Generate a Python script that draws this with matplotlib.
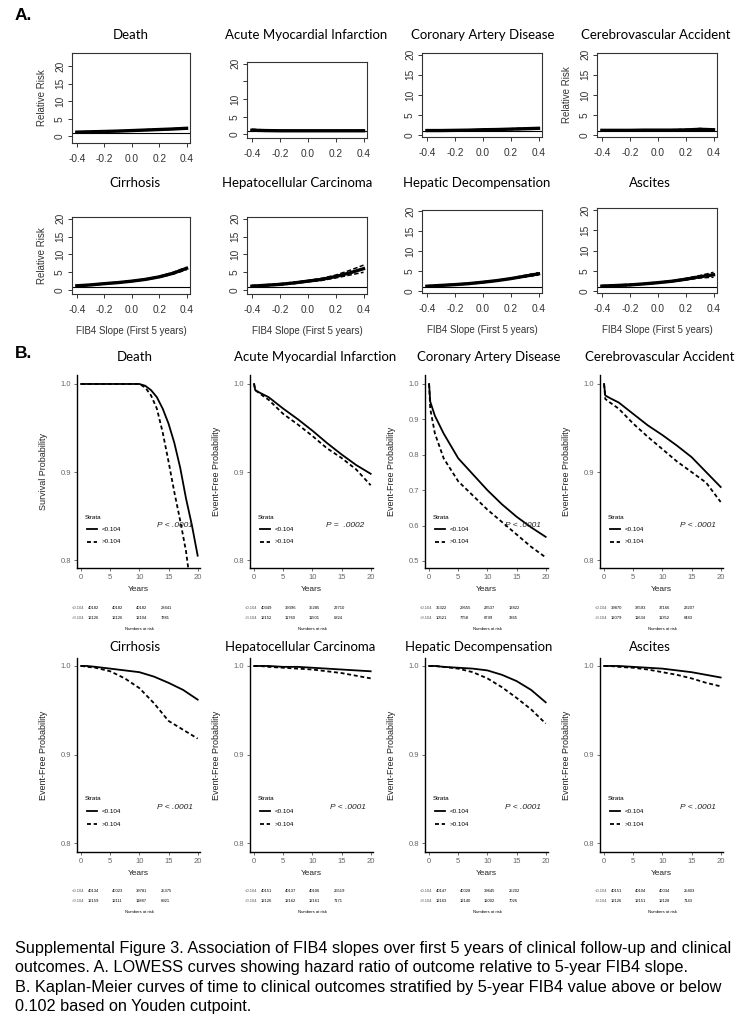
import numpy as np
import matplotlib
matplotlib.use("Agg")
import matplotlib.pyplot as plt

W, H = 749, 1030

# ---- Panel A: LOWESS relative risk vs 5-year FIB4 slope
slope = [-0.4, -0.3, -0.2, -0.1, 0.0, 0.1, 0.2, 0.3, 0.4]

rr_death = [1.2, 1.3, 1.4, 1.5, 1.65, 1.8, 1.95, 2.1, 2.3]
rr_death_lo = [1.1, 1.2, 1.3, 1.4, 1.55, 1.7, 1.85, 2.0, 2.15]
rr_death_hi = [1.3, 1.4, 1.5, 1.6, 1.75, 1.9, 2.05, 2.2, 2.45]

rr_ami = [1.2, 1.1, 1.05, 1.05, 1.05, 1.05, 1.05, 1.05, 1.05]
rr_ami_lo = [0.9, 0.95, 0.95, 1.0, 1.0, 1.0, 1.0, 1.0, 0.95]
rr_ami_hi = [1.5, 1.25, 1.15, 1.1, 1.1, 1.1, 1.1, 1.15, 1.2]

rr_cad = [1.2, 1.2, 1.25, 1.3, 1.4, 1.45, 1.55, 1.65, 1.75]
rr_cad_lo = [1.1, 1.15, 1.2, 1.25, 1.35, 1.4, 1.45, 1.5, 1.6]
rr_cad_hi = [1.3, 1.25, 1.3, 1.35, 1.45, 1.5, 1.65, 1.8, 1.9]

rr_cva = [1.25, 1.25, 1.25, 1.3, 1.3, 1.3, 1.35, 1.5, 1.4]
rr_cva_lo = [1.1, 1.15, 1.2, 1.2, 1.25, 1.25, 1.25, 1.3, 1.2]
rr_cva_hi = [1.4, 1.35, 1.3, 1.35, 1.35, 1.4, 1.5, 1.7, 1.6]

rr_cirr = [1.2, 1.45, 1.8, 2.1, 2.5, 3.0, 3.7, 4.7, 6.1]
rr_cirr_lo = [1.1, 1.35, 1.7, 2.0, 2.4, 2.9, 3.55, 4.45, 5.7]
rr_cirr_hi = [1.3, 1.55, 1.9, 2.2, 2.6, 3.1, 3.85, 4.95, 6.4]

rr_hcc = [1.1, 1.35, 1.6, 2.0, 2.5, 3.0, 3.8, 4.8, 6.0]
rr_hcc_lo = [0.9, 1.2, 1.4, 1.8, 2.3, 2.7, 3.4, 4.2, 5.0]
rr_hcc_hi = [1.3, 1.5, 1.8, 2.2, 2.7, 3.3, 4.2, 5.5, 7.0]

rr_hd = [1.2, 1.4, 1.6, 1.85, 2.2, 2.6, 3.1, 3.7, 4.3]
rr_hd_lo = [1.1, 1.3, 1.5, 1.75, 2.1, 2.5, 3.0, 3.5, 4.0]
rr_hd_hi = [1.3, 1.5, 1.7, 1.95, 2.3, 2.7, 3.2, 3.9, 4.6]

rr_asc = [1.2, 1.35, 1.5, 1.75, 2.05, 2.4, 2.9, 3.5, 4.0]
rr_asc_lo = [1.05, 1.2, 1.35, 1.65, 1.95, 2.3, 2.7, 3.2, 3.4]
rr_asc_hi = [1.35, 1.5, 1.65, 1.85, 2.15, 2.5, 3.1, 3.8, 4.6]

outcomes = ["Death", "Acute Myocardial Infarction", "Coronary Artery Disease",
            "Cerebrovascular Accident", "Cirrhosis", "Hepatocellular Carcinoma",
            "Hepatic Decompensation", "Ascites"]

# ---- Panel B: Kaplan-Meier curves (<0.104 solid, >0.104 dashed)
t_death = [0, 10, 11, 12, 13, 14, 15, 16, 17, 18, 19, 20]
km_death_lo = [1.0, 1.0, 0.998, 0.993, 0.985, 0.972, 0.955, 0.933, 0.905, 0.87, 0.84, 0.805]
km_death_hi = [1.0, 1.0, 0.996, 0.987, 0.972, 0.945, 0.912, 0.877, 0.845, 0.81, 0.76, 0.70]

t_km = [0, 0.2, 1, 2.5, 5, 7.5, 10, 12.5, 15, 17.5, 20]
km_ami_lo = [1.0, 0.993, 0.99, 0.985, 0.972, 0.96, 0.947, 0.933, 0.92, 0.908, 0.898]
km_ami_hi = [1.0, 0.993, 0.989, 0.982, 0.966, 0.954, 0.941, 0.927, 0.916, 0.903, 0.885]
km_cad_lo = [1.0, 0.95, 0.91, 0.86, 0.79, 0.745, 0.70, 0.66, 0.625, 0.595, 0.568]
km_cad_hi = [1.0, 0.93, 0.86, 0.79, 0.725, 0.685, 0.645, 0.61, 0.575, 0.54, 0.51]
km_cva_lo = [1.0, 0.987, 0.984, 0.979, 0.966, 0.953, 0.942, 0.93, 0.917, 0.90, 0.883]
km_cva_hi = [1.0, 0.983, 0.979, 0.972, 0.955, 0.94, 0.926, 0.912, 0.90, 0.888, 0.866]
km_cirr_lo = [1.0, 1.0, 1.0, 0.999, 0.997, 0.995, 0.993, 0.988, 0.981, 0.973, 0.962]
km_cirr_hi = [1.0, 1.0, 0.999, 0.998, 0.994, 0.986, 0.975, 0.958, 0.938, 0.928, 0.918]
km_hcc_lo = [1.0, 1.0, 1.0, 1.0, 0.999, 0.999, 0.998, 0.997, 0.996, 0.995, 0.994]
km_hcc_hi = [1.0, 1.0, 1.0, 0.999, 0.998, 0.997, 0.996, 0.994, 0.992, 0.989, 0.986]
km_hd_lo = [1.0, 1.0, 1.0, 0.999, 0.998, 0.997, 0.995, 0.99, 0.983, 0.973, 0.959]
km_hd_hi = [1.0, 1.0, 1.0, 0.999, 0.997, 0.993, 0.986, 0.976, 0.964, 0.951, 0.935]
km_asc_lo = [1.0, 1.0, 1.0, 1.0, 0.999, 0.998, 0.997, 0.995, 0.993, 0.99, 0.987]
km_asc_hi = [1.0, 1.0, 1.0, 0.999, 0.998, 0.996, 0.993, 0.99, 0.986, 0.981, 0.977]

p_values = ["P < .0001", "P =  .0002", "P < .0001", "P < .0001",
            "P < .0001", "P < .0001", "P < .0001", "P < .0001"]

# numbers at risk at 0, 5, 10, 15 years
risk_lo = [[40182, 40182, 40182, 28441], [40349, 39396, 35285, 22710],
           [36322, 29555, 23537, 13822], [39870, 38593, 37166, 23207],
           [40134, 40023, 39781, 25375], [40151, 40137, 40106, 25519],
           [40147, 40028, 39645, 25202], [40151, 40104, 40034, 25403]]
risk_hi = [[12126, 12126, 12104, 7881], [12152, 11760, 11501, 6824],
           [10521, 7758, 6799, 3365], [12079, 11634, 11352, 6483],
           [12159, 12111, 11887, 6921], [12126, 12162, 12161, 7171],
           [12163, 12140, 12002, 7026], [12126, 12151, 12128, 7143]]

strata = ["<0.104", ">0.104"]

caption = ("Supplemental Figure 3. Association of FIB4 slopes over first 5 years of clinical follow-up and clinical\n"
           "outcomes. A. LOWESS curves showing hazard ratio of outcome relative to 5-year FIB4 slope.\n"
           "B. Kaplan-Meier curves of time to clinical outcomes stratified by 5-year FIB4 value above or below\n"
           "0.102 based on Youden cutpoint.")

fig = plt.figure(figsize=(W / 100, H / 100), dpi=100)
fig.patch.set_facecolor("white")


def px_axes(x0, y0, x1, y1):
    return fig.add_axes([x0 / W, 1 - y1 / H, (x1 - x0) / W, (y1 - y0) / H])


def ftext(x, y, s, **kw):
    fig.text(x / W, 1 - y / H, s, **kw)


title_font = dict(family=["Lato", "DejaVu Sans"], fontsize=9.5, ha="center", va="center")

# ---------------- Panel A ----------------
ftext(15, 16, "A.", fontsize=12.5, fontweight="bold", family="Liberation Sans", va="center")

rr_sets = [(rr_death, rr_death_lo, rr_death_hi), (rr_ami, rr_ami_lo, rr_ami_hi),
           (rr_cad, rr_cad_lo, rr_cad_hi), (rr_cva, rr_cva_lo, rr_cva_hi),
           (rr_cirr, rr_cirr_lo, rr_cirr_hi), (rr_hcc, rr_hcc_lo, rr_hcc_hi),
           (rr_hd, rr_hd_lo, rr_hd_hi), (rr_asc, rr_asc_lo, rr_asc_hi)]

a_boxes = [(72, 53, 190, 143), (247, 62, 367, 138), (422, 53, 542, 137), (597, 53, 717, 137),
           (72, 217, 190, 294), (247, 217, 367, 294), (422, 210, 542, 293), (597, 208, 717, 293)]
a_ylims = [(-1.9, 23.8), (-1.0, 20.5), (-0.4, 20.4), (-0.4, 20.4),
           (-1.1, 20.5), (-1.1, 20.5), (-0.5, 20.3), (-0.5, 20.5)]
a_titles_xy = [(131, 35), (306, 35), (483, 35), (656, 35),
               (135, 183), (297, 183), (477, 183), (650, 183)]

for i, (mid, lo, hi) in enumerate(rr_sets):
    ax = px_axes(*a_boxes[i])
    ax.plot(slope, mid, color="black", lw=2.4)
    ax.plot(slope, lo, color="black", lw=1.1, ls=(0, (3, 1.5)))
    ax.plot(slope, hi, color="black", lw=1.1, ls=(0, (3, 1.5)))
    ax.axhline(1, color="black", lw=0.8)
    ax.set_xlim(-0.435, 0.425)
    ax.set_ylim(*a_ylims[i])
    ax.set_xticks([-0.4, -0.2, 0.0, 0.2, 0.4])
    ax.set_xticklabels(["-0.4", "-0.2", "0.0", "0.2", "0.4"])
    ax.set_yticks([0, 5, 10, 15, 20])
    if i == 1:
        ax.set_yticklabels(["0", "5", "10", "", "20"])
    for s in ax.spines.values():
        s.set_linewidth(0.8)
        s.set_color("#333333")
    ax.tick_params(axis="both", labelsize=7.3, length=3, width=0.7, colors="#333333",
                   labelcolor="#333333")
    ax.tick_params(axis="y", labelrotation=90, pad=2)
    ax.tick_params(axis="x", pad=5)
    for lab in ax.get_yticklabels():
        lab.set_va("center")
        lab.set_family("Liberation Sans")
    for lab in ax.get_xticklabels():
        lab.set_family("Liberation Sans")
    if i in (0, 3, 4):
        ax.set_ylabel("Relative Risk", fontsize=7, family="Liberation Sans", color="#333333",
                      labelpad=6)
    if i >= 4:
        ax.set_xlabel("FIB4 Slope (First 5 years)", fontsize=7, family="Liberation Sans",
                      color="#333333", labelpad=8)
    tx, ty = a_titles_xy[i]
    ftext(tx, ty, outcomes[i], **title_font)

# ---------------- Panel B ----------------
ftext(15, 353, "B.", fontsize=12.5, fontweight="bold", family="Liberation Sans", va="center")

km_sets = [(t_death, km_death_lo, km_death_hi), (t_km, km_ami_lo, km_ami_hi),
           (t_km, km_cad_lo, km_cad_hi), (t_km, km_cva_lo, km_cva_hi),
           (t_km, km_cirr_lo, km_cirr_hi), (t_km, km_hcc_lo, km_hcc_hi),
           (t_km, km_hd_lo, km_hd_hi), (t_km, km_asc_lo, km_asc_hi)]

col_left = [77, 250, 425, 600]
row_top = [375, 658]
row_bot = [568, 852]
b_titles_xy = [(135, 357), (315, 357), (489, 357), (660, 357),
               (135, 647), (300, 647), (479, 647), (650, 647)]
risk_y = [(608, 618, 629), (891, 901, 912)]

for i, (tt, lo, hi) in enumerate(km_sets):
    r, c = divmod(i, 4)
    x0 = col_left[c]
    ax = px_axes(x0, row_top[r], x0 + 123, row_bot[r])
    ax.plot(tt, lo, color="black", lw=1.3)
    ax.plot(tt, hi, color="black", lw=1.3, ls=(0, (2.2, 1.5)))
    ax.set_xlim(-0.7, 20.4)
    if i == 2:
        ax.set_ylim(0.480, 1.0254)
        ax.set_yticks([0.5, 0.6, 0.7, 0.8, 0.9, 1.0])
    elif r == 0:
        ax.set_ylim(0.791, 1.0102)
        ax.set_yticks([0.8, 0.9, 1.0])
    else:
        ax.set_ylim(0.79, 1.009)
        ax.set_yticks([0.8, 0.9, 1.0])
    ax.set_xticks([0, 5, 10, 15, 20])
    for side in ("top", "right"):
        ax.spines[side].set_visible(False)
    for side in ("left", "bottom"):
        ax.spines[side].set_linewidth(1.0)
    ax.tick_params(axis="both", labelsize=5.5, length=2, width=0.6, colors="#555555",
                   labelcolor="#666666", pad=2)
    for lab in ax.get_xticklabels() + ax.get_yticklabels():
        lab.set_family("Liberation Sans")
    ylab = "Survival Probability" if i == 0 else "Event-Free Probability"
    ax.set_ylabel(ylab, fontsize=6.5, family="Liberation Sans", color="#222222")
    ax.yaxis.set_label_coords(-0.235, 0.5)
    ax.set_xlabel("Years", fontsize=6, family="Liberation Sans", color="#222222")
    ax.xaxis.set_label_coords(0.5, -0.095)

    # legend drawn inside
    ly = [0.264, 0.2, 0.135] if r == 0 else [0.278, 0.21, 0.144]
    ax.text(0.065, ly[0], "Strata", transform=ax.transAxes, fontsize=4.5,
            family="Liberation Sans", va="center")
    ax.plot([0.08, 0.165], [ly[1], ly[1]], transform=ax.transAxes, color="black", lw=1.3)
    ax.plot([0.08, 0.165], [ly[2], ly[2]], transform=ax.transAxes, color="black", lw=1.3,
            ls=(0, (2.2, 1.5)))
    ax.text(0.2, ly[1], strata[0], transform=ax.transAxes, fontsize=4.5,
            family="Liberation Sans", va="center")
    ax.text(0.2, ly[2], strata[1], transform=ax.transAxes, fontsize=4.5,
            family="Liberation Sans", va="center")
    py = 0.218 if r == 0 else 0.227
    px = 0.62 if i == 1 else 0.65
    ax.text(px, py, p_values[i], transform=ax.transAxes, fontsize=6, style="italic",
            family="Liberation Sans", color="#222222", va="center")

    tx, ty = b_titles_xy[i]
    ftext(tx, ty, outcomes[i], **title_font)

    # numbers at risk table
    y1, y2, y3 = risk_y[r]
    small = dict(fontsize=3.0, family="Liberation Sans", va="center")
    ftext(x0 - 5, y1, strata[0], color="#555555", **small)
    ftext(x0 - 5, y2, strata[1], color="#555555", **small)
    for k, dx in enumerate([11, 35, 59, 84]):
        ftext(x0 + dx, y1, str(risk_lo[i][k]), **small)
        ftext(x0 + dx, y2, str(risk_hi[i][k]), **small)
    ftext(x0 + 62, y3, "Numbers at risk", ha="center", **small)

# ---------------- caption ----------------
ftext(15, 941, caption, fontsize=11.7, family="Liberation Sans", va="top", linespacing=1.36)

fig.savefig("out.png", dpi=100, facecolor="white")
